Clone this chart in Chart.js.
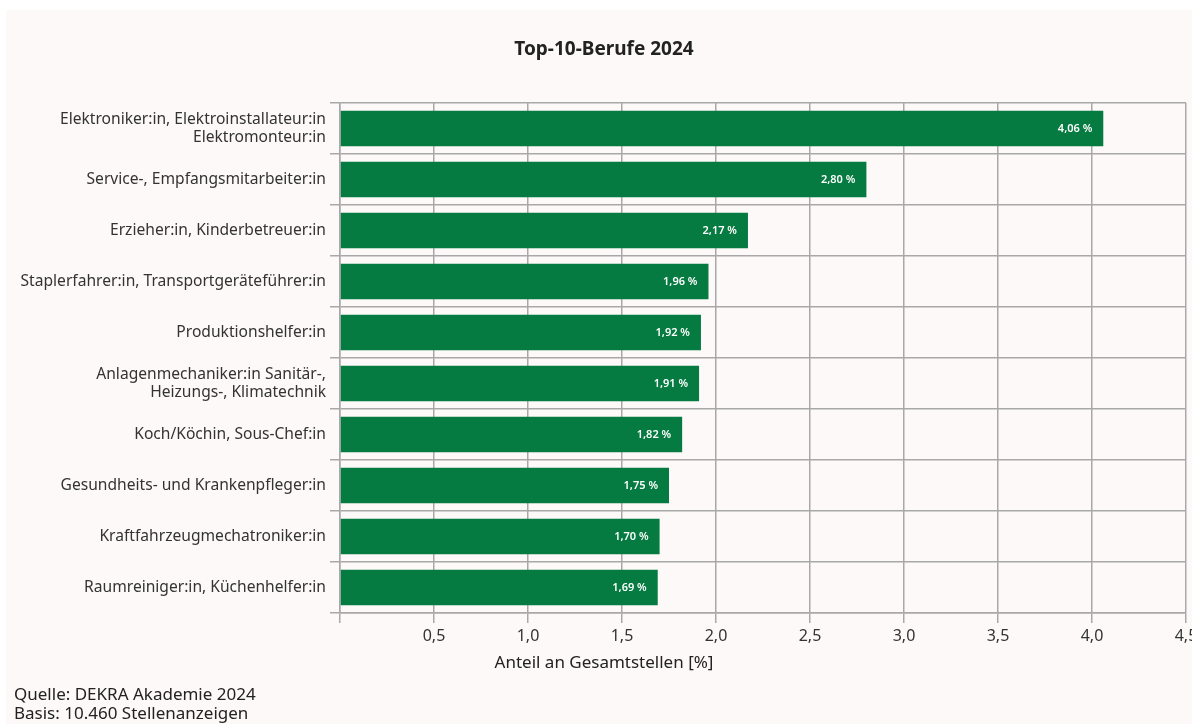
<!DOCTYPE html>
<html><head><meta charset="utf-8">
<script src="https://cdn.jsdelivr.net/npm/chart.js@4"></script>
<style>
html,body{margin:0;padding:0;background:#fff;overflow:hidden;width:1192px;height:724px;}
#wrap{position:absolute;left:6px;top:10px;width:1200px;height:714px;background:#fcf9f8;}
canvas{display:block;}
</style></head>
<body><div id="wrap"><canvas id="c" width="1200" height="714"></canvas></div>
<script>
const categories = [
  ["Elektroniker:in, Elektroinstallateur:in","Elektromonteur:in"],
  "Service-, Empfangsmitarbeiter:in",
  "Erzieher:in, Kinderbetreuer:in",
  "Staplerfahrer:in, Transportgeräteführer:in",
  "Produktionshelfer:in",
  ["Anlagenmechaniker:in Sanitär-,","Heizungs-, Klimatechnik"],
  "Koch/Köchin, Sous-Chef:in",
  "Gesundheits- und Krankenpfleger:in",
  "Kraftfahrzeugmechatroniker:in",
  "Raumreiniger:in, Küchenhelfer:in"
];
const values = [4.06, 2.80, 2.17, 1.96, 1.92, 1.91, 1.82, 1.75, 1.70, 1.69];
const xTicks = [0, 0.5, 1.0, 1.5, 2.0, 2.5, 3.0, 3.5, 4.0, 4.5];
const titleText = "Top-10-Berufe 2024";
const axisTitle = "Anteil an Gesamtstellen [%]";
const footerLines = ["Quelle: DEKRA Akademie 2024", "Basis: 10.460 Stellenanzeigen"];

const FONT = "'Noto Sans', 'Open Sans', sans-serif";
const fmt = (v, d) => v.toFixed(d).replace('.', ',');

const textPlugin = {
  id: 'texts',
  afterDraw(chart) {
    const ctx = chart.ctx;
    ctx.save();
    ctx.fillStyle = '#222';
    ctx.textBaseline = 'middle';
    ctx.textAlign = 'center';
    ctx.font = "bold 19px " + FONT;
    ctx.fillText(titleText, 598, 40);
    ctx.font = "17px " + FONT;
    ctx.fillText(axisTitle, 598, 653);
    ctx.textAlign = 'left';
    ctx.fillText(footerLines[0], 8, 685);
    ctx.fillText(footerLines[1], 8, 704);
    ctx.restore();
  },
  afterDatasetsDraw(chart) {
    const ctx = chart.ctx;
    const meta = chart.getDatasetMeta(0);
    ctx.save();
    ctx.fillStyle = '#fff';
    ctx.font = "600 11px " + FONT;
    ctx.textAlign = 'right';
    ctx.textBaseline = 'middle';
    meta.data.forEach((bar, i) => {
      ctx.fillText(fmt(values[i], 2) + ' %', bar.x - 11, bar.y);
    });
    ctx.restore();
  }
};

new Chart(document.getElementById('c'), {
  type: 'bar',
  data: {
    labels: categories,
    datasets: [{
      data: values,
      backgroundColor: '#057b41',
      borderWidth: 0,
      barPercentage: 0.7,
      categoryPercentage: 1.0
    }]
  },
  options: {
    indexAxis: 'y',
    responsive: false,
    animation: false,
    layout: { padding: { top: 93, bottom: 71, left: 0, right: 20 } },
    plugins: { legend: { display: false }, tooltip: { enabled: false }, title: { display: false } },
    scales: {
      x: {
        min: 0, max: 4.5,
        afterBuildTicks(scale) { scale.ticks = xTicks.map(v => ({ value: v })); },
        afterFit(scale) { scale.height = 40; scale.paddingRight = 0; scale.paddingLeft = 0; },
        ticks: {
          color: '#333',
          font: { family: FONT, size: 16 },
          padding: 4,
          maxRotation: 0,
          autoSkip: false,
          callback: (v) => v === 0 ? '' : fmt(v, 1)
        },
        grid: { color: '#a8a8a8', lineWidth: 1.5, tickLength: 10, drawTicks: true },
        border: { color: '#a8a8a8', width: 1.5 }
      },
      y: {
        afterFit(scale) { scale.width = 334; },
        ticks: {
          color: '#333',
          font: { family: FONT, size: 15.6, lineHeight: 1.12 },
          padding: 4,
          autoSkip: false
        },
        grid: { color: '#a8a8a8', lineWidth: 1.5, tickLength: 10, offset: true, drawTicks: true },
        border: { color: '#a8a8a8', width: 1.5 }
      }
    }
  },
  plugins: [textPlugin]
});
</script>
</body></html>
